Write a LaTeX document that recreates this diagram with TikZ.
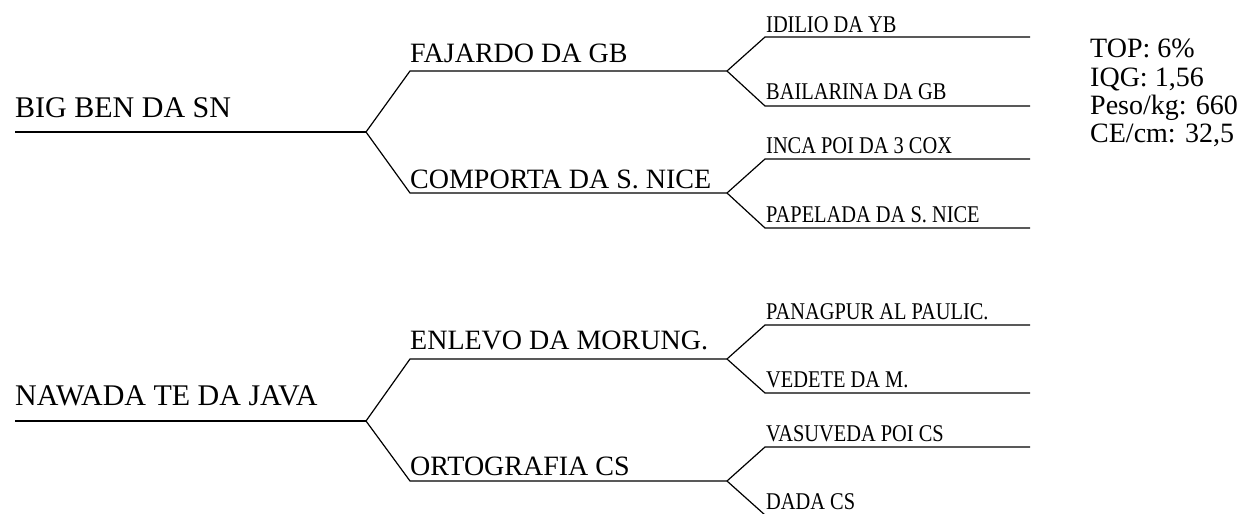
\documentclass[tikz,border=0pt]{standalone}
\usepackage{fontspec}
\setmainfont{Liberation Serif}
\newfontfamily\narrowfont[FakeStretch=0.85]{Liberation Serif}

\tikzset{
	rootname/.style={anchor=base west, inner sep=0pt, font=\fontsize{30}{30}\selectfont},
	sonname/.style={anchor=base west, inner sep=0pt, font=\fontsize{28}{28}\selectfont},
	grandname/.style={anchor=base west, inner sep=0pt, font=\narrowfont\fontsize{24}{24}\selectfont},
	statname/.style={anchor=base west, inner sep=0pt, font=\fontsize{28}{28}\selectfont},
	branch/.style={line width=1.2pt}
}

\begin{document}
\begin{tikzpicture}[x=1pt, y=-1pt]
	\useasboundingbox (0,0) rectangle (1243,514);

	% first bull
	\coordinate (bigben) at (15,132);
	\coordinate (bigbenfork) at (366,132);
	\coordinate (fajardo) at (410,71);
	\coordinate (fajardofork) at (727,71);
	\coordinate (comporta) at (410,193);
	\coordinate (comportafork) at (727,193);
	\coordinate (idilio) at (765,37);
	\coordinate (idilioend) at (1030,37);
	\coordinate (bailarina) at (765,106);
	\coordinate (bailarinaend) at (1030,106);
	\coordinate (inca) at (765,159);
	\coordinate (incaend) at (1030,159);
	\coordinate (papelada) at (765,228);
	\coordinate (papeladaend) at (1030,228);

	\draw [branch] (bigben) -- (bigbenfork);
	\draw [branch] (bigbenfork) -- (fajardo) -- (fajardofork);
	\draw [branch] (bigbenfork) -- (comporta) -- (comportafork);
	\draw [branch] (fajardofork) -- (idilio) -- (idilioend);
	\draw [branch] (fajardofork) -- (bailarina) -- (bailarinaend);
	\draw [branch] (comportafork) -- (inca) -- (incaend);
	\draw [branch] (comportafork) -- (papelada) -- (papeladaend);

	\node [rootname] (bigbentext) at (15,117) {BIG BEN DA SN};
	\node [sonname] (fajardotext) at (410,62) {FAJARDO DA GB};
	\node [sonname] (comportatext) at (410,188) {COMPORTA DA S. NICE};
	\node [grandname] (idiliotext) at (766,32) {IDILIO DA YB};
	\node [grandname] (bailarinatext) at (766,99) {BAILARINA DA GB};
	\node [grandname] (incatext) at (766,153) {INCA POI DA 3 COX};
	\node [grandname] (papeladatext) at (766,222) {PAPELADA DA S. NICE};

	% indices
	\node [statname] (top) at (1090,57) {TOP: 6\%};
	\node [statname] (iqg) at (1090,86) {IQG: 1,56};
	\node [statname] (peso) at (1090,114) {Peso/kg: 660};
	\node [statname] (ce) at (1090,142) {CE/cm: 32,5};

	% second bull
	\coordinate (nawada) at (15,421);
	\coordinate (nawadafork) at (366,421);
	\coordinate (enlevo) at (410,359);
	\coordinate (enlevofork) at (727,359);
	\coordinate (ortografia) at (410,481);
	\coordinate (ortografiafork) at (727,481);
	\coordinate (panagpur) at (765,325);
	\coordinate (panagpurend) at (1030,325);
	\coordinate (vedete) at (765,393);
	\coordinate (vedeteend) at (1030,393);
	\coordinate (vasuveda) at (765,447);
	\coordinate (vasuvedaend) at (1030,447);
	\coordinate (dada) at (765,515);
	\coordinate (dadaend) at (1030,515);

	\draw [branch] (nawada) -- (nawadafork);
	\draw [branch] (nawadafork) -- (enlevo) -- (enlevofork);
	\draw [branch] (nawadafork) -- (ortografia) -- (ortografiafork);
	\draw [branch] (enlevofork) -- (panagpur) -- (panagpurend);
	\draw [branch] (enlevofork) -- (vedete) -- (vedeteend);
	\draw [branch] (ortografiafork) -- (vasuveda) -- (vasuvedaend);
	\draw [branch] (ortografiafork) -- (dada) -- (dadaend);

	\node [rootname] (nawadatext) at (15,405) {NAWADA TE DA JAVA};
	\node [sonname] (enlevotext) at (410,349) {ENLEVO DA MORUNG.};
	\node [sonname] (ortografiatext) at (410,475) {ORTOGRAFIA CS};
	\node [grandname] (panagpurtext) at (766,319) {PANAGPUR AL PAULIC.};
	\node [grandname] (vedetetext) at (766,387) {VEDETE DA M.};
	\node [grandname] (vasuvedatext) at (766,441) {VASUVEDA POI CS};
	\node [grandname] (dadatext) at (766,509) {DADA CS};
\end{tikzpicture}
\end{document}
